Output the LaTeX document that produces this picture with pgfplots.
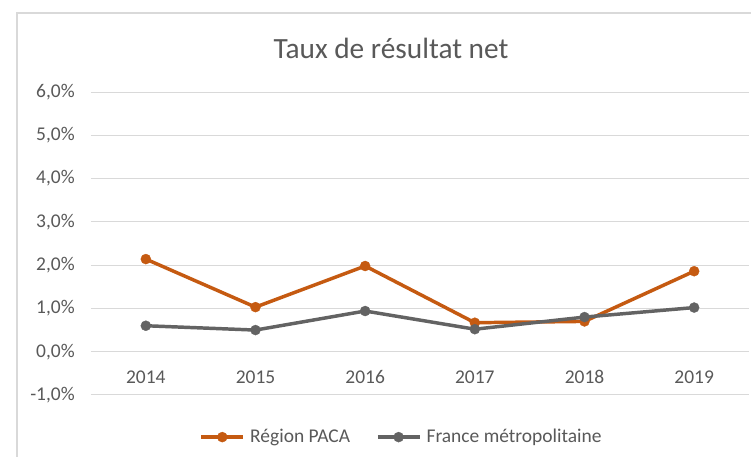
\documentclass[border=0pt]{standalone}
\usepackage{fontspec}
\setmainfont{Carlito}
\usepackage{pgfplots}
\pgfplotsset{compat=1.18}
\definecolor{paca}{HTML}{C55A11}
\definecolor{fra}{HTML}{636363}
\definecolor{txt}{HTML}{595959}
\definecolor{gridc}{HTML}{D9D9D9}
\begin{document}
\begin{tikzpicture}[x=0.75pt,y=0.75pt]
\useasboundingbox (0,0) rectangle (751,457);
\clip (0,0) rectangle (751,457);
\fill[white] (0,0) rectangle (751,457);
\draw[gridc, line width=0.9pt] (17,-20) -- (17,444) -- (800,444);
\node[text=txt, font=\fontsize{22}{26}\selectfont] at (391,409) {Taux de résultat net};
\begin{axis}[
  at={(68.25pt,46.5pt)}, anchor=south west,
  scale only axis, width=493.5pt, height=227.25pt,
  xmin=-0.5, xmax=5.5, ymin=-1, ymax=6,
  xtick={0,1,2,3,4,5},
  xticklabels={2014,2015,2016,2017,2018,2019},
  ytick={-1,0,1,2,3,4,5,6},
  yticklabels={{-1,0\%},{0,0\%},{1,0\%},{2,0\%},{3,0\%},{4,0\%},{5,0\%},{6,0\%}},
  axis line style={draw=none},
  major tick length=0pt, tick style={draw=none},
  ymajorgrids, grid style={draw=gridc, line width=0.75pt},
  tick label style={text=txt, font=\fontsize{14.6}{17}\selectfont},
  yticklabel style={anchor=east, inner sep=0pt, xshift=-12pt},
  xticklabel style={anchor=center, inner sep=0pt, yshift=13.5pt},
  legend columns=2,
  legend style={at={(axis description cs:0.4726,-0.139)}, anchor=center, draw=none, fill=none,
    font=\fontsize{14.6}{17}\selectfont, text=txt,
    /tikz/every even column/.append style={column sep=17.5pt},
    /tikz/every odd column/.append style={column sep=2pt}},
  legend image code/.code={\draw[mark repeat=2,mark phase=2,#1] plot coordinates {(0cm,0cm)(0.55cm,0cm)(1.1cm,0cm)};},
]
\addplot[paca, line width=2.6pt, mark=*, mark size=3.8pt, mark options={fill=paca, draw=paca, line width=0.2pt}]
  coordinates {(0,2.14)(1,1.03)(2,1.98)(3,0.67)(4,0.70)(5,1.86)};
\addlegendentry{Région PACA}
\addplot[fra, line width=2.6pt, mark=*, mark size=3.8pt, mark options={fill=fra, draw=fra, line width=0.2pt}]
  coordinates {(0,0.60)(1,0.50)(2,0.94)(3,0.52)(4,0.80)(5,1.02)};
\addlegendentry{France métropolitaine}
\end{axis}
\end{tikzpicture}
\end{document}
